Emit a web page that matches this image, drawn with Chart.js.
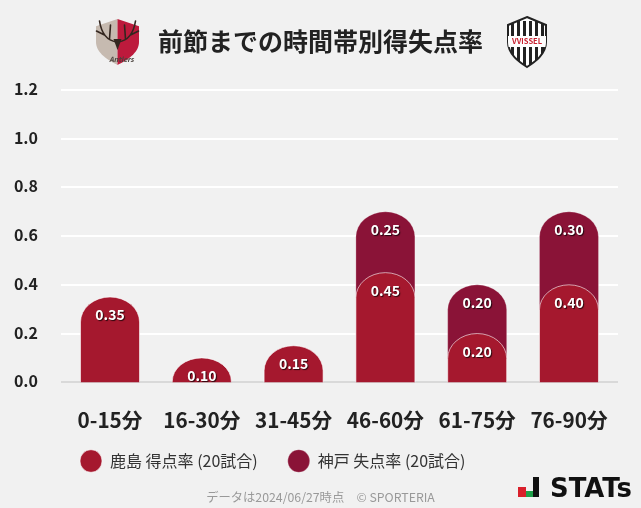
<!DOCTYPE html>
<html>
<head>
<meta charset="utf-8">
<title>前節までの時間帯別得失点率</title>
<script src="https://cdn.jsdelivr.net/npm/chart.js@4/dist/chart.umd.js"></script>
<style>
  html, body { margin: 0; padding: 0; background: #f1f1f1; }
  #wrap { width: 641px; height: 508px; position: relative; }
</style>
</head>
<body>
<div id="wrap"><canvas id="rateChart" width="641" height="508"></canvas></div>
<script>
const categories = ["0-15分", "16-30分", "31-45分", "46-60分", "61-75分", "76-90分"];
const kashimaRates = [0.35, 0.10, 0.15, 0.45, 0.20, 0.40];
const kobeRates = [0, 0, 0, 0.25, 0.20, 0.30];
const yTicks = [0, 0.2, 0.4, 0.6, 0.8, 1.0, 1.2];
const kashimaLabel = "鹿島 得点率 (20試合)";
const kobeLabel = "神戸 失点率 (20試合)";
const chartTitle = "前節までの時間帯別得失点率";
const footnote = "データは2024/06/27時点　© SPORTERIA";

const JP = '"Noto Sans CJK JP", "Noto Sans", sans-serif';

// bars with an elliptical dome instead of the library's circular corners
class DomeBar extends Chart.elements.BarElement {
  draw(ctx) {
    const { x, y, base, width } = this.getProps(["x", "y", "base", "width"]);
    const h = base - y;
    if (h <= 0) return;
    const rx = width / 2;
    const ry = Math.min(25, h);
    const bottom = base + 25; // runs behind the bar stacked under it
    ctx.save();
    ctx.beginPath();
    ctx.moveTo(x - rx, bottom);
    ctx.lineTo(x - rx, y + ry);
    ctx.ellipse(x, y + ry, rx, ry, 0, Math.PI, 2 * Math.PI);
    ctx.lineTo(x + rx, bottom);
    ctx.closePath();
    ctx.fillStyle = this.options.backgroundColor;
    ctx.fill();
    ctx.lineWidth = this.options.borderWidth;
    ctx.strokeStyle = this.options.borderColor;
    ctx.stroke();
    ctx.restore();
  }
}
DomeBar.id = "domeBar";
DomeBar.defaults = Chart.elements.BarElement.defaults;
Chart.register(DomeBar);
Chart.defaults.datasets.bar.dataElementType = "domeBar";

// white figures near the top of each bar, cut off by the plot area like the original
const valueLabels = {
  id: "valueLabels",
  afterDatasetsDraw(chart) {
    const { ctx, chartArea } = chart;
    ctx.save();
    ctx.beginPath();
    ctx.rect(0, 0, chart.width, chartArea.bottom);
    ctx.clip();
    ctx.font = "bold 14px " + JP;
    ctx.textAlign = "center";
    ctx.textBaseline = "middle";
    ctx.fillStyle = "#ffffff";
    ctx.shadowColor = "rgba(0,0,0,0.75)";
    ctx.shadowOffsetX = 1;
    ctx.shadowOffsetY = 1;
    ctx.shadowBlur = 1;
    chart.data.datasets.forEach((ds, i) => {
      chart.getDatasetMeta(i).data.forEach((el, j) => {
        const v = ds.data[j].y;
        if (v > 0) ctx.fillText(v.toFixed(2), el.x, el.y + 18);
      });
    });
    ctx.restore();
  }
};

// move the legend under the x labels, and centre title and footnote on the full width
const placeBoxes = {
  id: "placeBoxes",
  afterLayout(chart) {
    chart.legend.left = 50;
    chart.legend.top = 423;
    chart.boxes.forEach(box => {
      if (box.options.text !== undefined) {
        box.left = 0;
        box.right = chart.width;
      }
    });
  }
};

function shieldPath(ctx, x, y, w, h) {
  ctx.beginPath();
  ctx.moveTo(x + w / 2, y);
  ctx.lineTo(x + w, y + h * 0.16);
  ctx.lineTo(x + w, y + h * 0.5);
  ctx.bezierCurveTo(x + w, y + h * 0.75, x + w * 0.7, y + h * 0.9, x + w / 2, y + h);
  ctx.bezierCurveTo(x + w * 0.3, y + h * 0.9, x, y + h * 0.75, x, y + h * 0.5);
  ctx.lineTo(x, y + h * 0.16);
  ctx.closePath();
}

function drawKashima(ctx) {
  const x = 96, y = 19, w = 43, h = 46;
  const cx = x + w / 2;
  ctx.save();
  shieldPath(ctx, x, y, w, h);
  ctx.clip();
  ctx.fillStyle = "#c6bab0";
  ctx.fillRect(x, y, w / 2, h);
  ctx.fillStyle = "#bd1a3c";
  ctx.fillRect(cx, y, w / 2, h);
  ctx.restore();
  ctx.save();
  ctx.strokeStyle = "#33261f";
  ctx.lineWidth = 1.6;
  ctx.lineCap = "round";
  [-1, 1].forEach(s => {
    ctx.beginPath();
    ctx.moveTo(cx + s * 1, 42);
    ctx.quadraticCurveTo(cx + s * 15, 40, cx + s * 18, 21);
    ctx.moveTo(cx + s * 8, 39);
    ctx.lineTo(cx + s * 7, 25);
    ctx.moveTo(cx + s * 13, 35);
    ctx.lineTo(cx + s * 21, 31);
    ctx.stroke();
  });
  ctx.fillStyle = "#33261f";
  ctx.beginPath();
  ctx.moveTo(cx - 4, 39);
  ctx.lineTo(cx + 4, 39);
  ctx.lineTo(cx, 50);
  ctx.closePath();
  ctx.fill();
  ctx.font = "italic bold 7px " + JP;
  ctx.textAlign = "center";
  ctx.fillStyle = "#4a423d";
  ctx.fillText("Antlers", cx + 4, 59);
  ctx.restore();
}

function drawVissel(ctx) {
  const x = 508, y = 17, w = 38, h = 50;
  ctx.save();
  shieldPath(ctx, x, y, w, h);
  ctx.fillStyle = "#ffffff";
  ctx.fill();
  ctx.lineWidth = 2;
  ctx.strokeStyle = "#222222";
  ctx.stroke();
  ctx.clip();
  ctx.fillStyle = "#222222";
  for (let i = 0; i < 6; i++) {
    ctx.fillRect(x + 3 + i * 6, y + 4, 3, h);
  }
  ctx.fillStyle = "#ffffff";
  ctx.fillRect(x, y + 19, w, 11);
  ctx.font = "bold 7.5px " + JP;
  ctx.textAlign = "center";
  ctx.textBaseline = "middle";
  ctx.fillStyle = "#c8202f";
  ctx.fillText("VVISSEL", x + w / 2, y + 24.5, w - 4);
  ctx.restore();
}

function drawStats(ctx) {
  ctx.save();
  ctx.fillStyle = "#d9202b";
  ctx.fillRect(518, 487, 8, 10);
  ctx.fillStyle = "#1fa04a";
  ctx.fillRect(526, 491, 7, 6);
  ctx.fillStyle = "#111111";
  ctx.fillRect(533, 477, 6, 20);
  ctx.font = 'bold 26px "DejaVu Sans"';
  ctx.textAlign = "left";
  ctx.textBaseline = "alphabetic";
  ctx.fillText("STATs", 550, 497, 82);
  ctx.restore();
}

const logos = {
  id: "logos",
  afterDraw(chart) {
    drawKashima(chart.ctx);
    drawVissel(chart.ctx);
    drawStats(chart.ctx);
  }
};

new Chart(document.getElementById("rateChart"), {
  type: "bar",
  data: {
    labels: categories,
    datasets: [
      {
        label: kashimaLabel,
        data: kashimaRates.map((v, i) => ({ x: i, y: v })),
        backgroundColor: "#a5182e",
        borderColor: "rgba(255,255,255,0.6)",
        borderWidth: 1,
        barThickness: 59
      },
      {
        label: kobeLabel,
        data: kobeRates.map((v, i) => ({ x: i, y: v })),
        backgroundColor: "#8a1337",
        borderColor: "rgba(255,255,255,0.25)",
        borderWidth: 1,
        barThickness: 59
      }
    ]
  },
  options: {
    responsive: false,
    animation: false,
    layout: { padding: { right: 23 } },
    scales: {
      x: {
        type: "linear",
        offset: false,
        stacked: true,
        min: -0.534,
        max: 5.534,
        grid: { display: false, offset: false },
        border: { display: false },
        afterBuildTicks(scale) {
          scale.ticks = categories.map((c, i) => ({ value: i }));
        },
        afterFit(scale) { scale.height = 52; },
        ticks: {
          autoSkip: false,
          maxRotation: 0,
          padding: 17,
          color: "#222222",
          font: { family: JP, size: 20.7, weight: "bold" },
          callback: v => categories[v]
        }
      },
      y: {
        stacked: true,
        min: 0,
        max: 1.2,
        grid: {
          drawTicks: false,
          lineWidth: 2,
          color: c => (c.tick.value === 0 ? "#d9d9d9" : "#ffffff")
        },
        border: { display: false },
        afterBuildTicks(scale) {
          scale.ticks = yTicks.map(v => ({ value: v }));
        },
        afterFit(scale) { scale.width = 61; },
        ticks: {
          padding: 23,
          labelOffset: -1,
          color: "#222222",
          font: { family: JP, size: 16, weight: "bold" },
          callback: v => v.toFixed(1)
        }
      }
    },
    plugins: {
      tooltip: { enabled: false },
      title: {
        display: true,
        text: chartTitle,
        color: "#222222",
        font: { family: JP, size: 25, weight: "bold", lineHeight: 1.2 },
        padding: { top: 26, bottom: 34 }
      },
      subtitle: {
        display: true,
        position: "bottom",
        text: footnote,
        color: "#999999",
        font: { family: JP, size: 12.3, weight: "normal", lineHeight: 1.2 },
        padding: { top: 0, bottom: 3 }
      },
      legend: {
        position: "bottom",
        align: "start",
        labels: {
          usePointStyle: true,
          pointStyle: "circle",
          boxHeight: 16,
          pointStyleWidth: 22,
          padding: 30,
          color: "#333333",
          font: { family: JP, size: 16 }
        }
      }
    }
  },
  plugins: [valueLabels, placeBoxes, logos]
});
</script>
</body>
</html>
